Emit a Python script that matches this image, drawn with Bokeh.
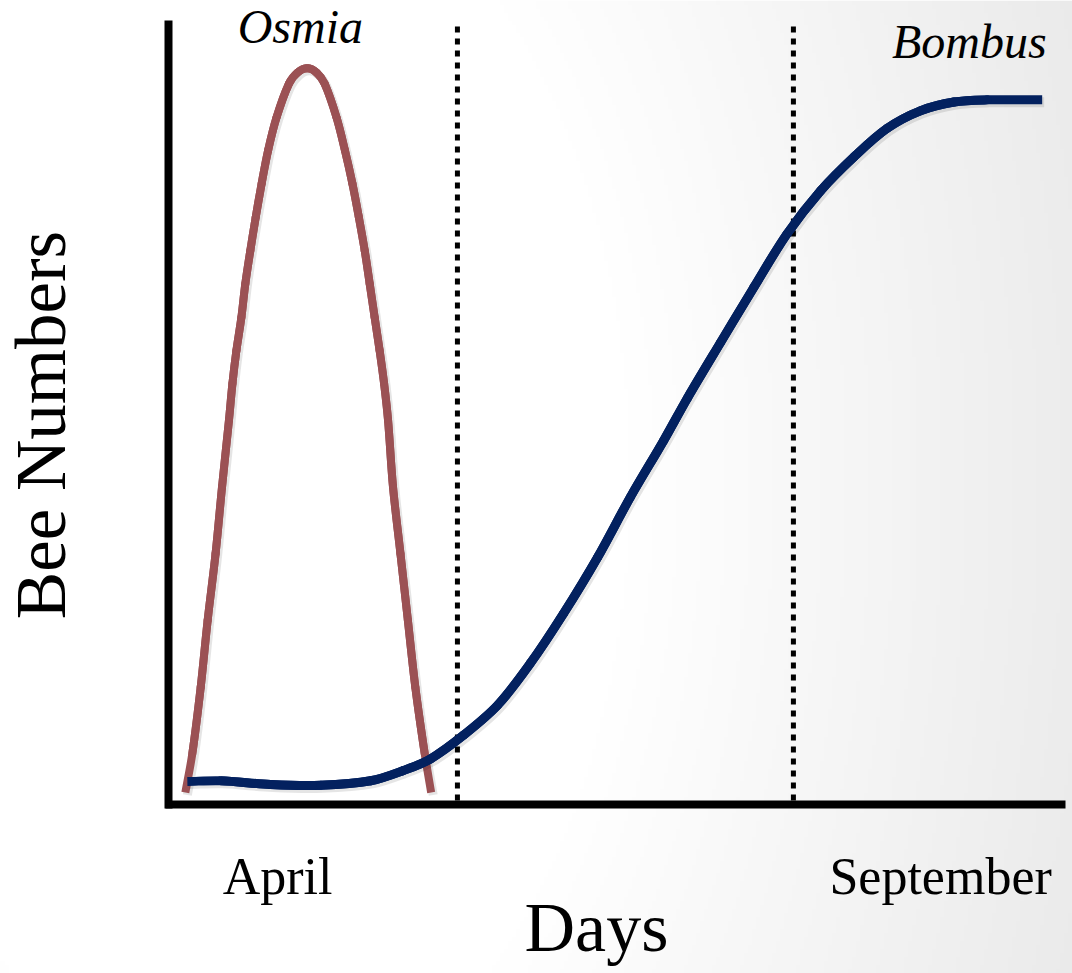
import numpy as np
from bokeh.plotting import figure
from bokeh.models import Range1d, LinearAxis, FixedTicker, ColumnDataSource
from bokeh.core.properties import value
from bokeh.embed import file_html
from bokeh.resources import INLINE

# ---------------- data ----------------
osmia_day = [3.0, 4.4, 6.1, 7.5, 9.1, 10.4, 11.8, 12.5, 13.3, 14.3, 15.1, 16.1, 17.2, 18.4,
             19.7, 21.4, 23.9, 25.6, 27.6, 29.5, 31.1, 33.5, 35.2, 36.7, 38.0, 39.2, 40.2,
             41.2, 42.2, 43.1, 43.9, 44.9, 46.4, 47.9, 49.4, 51.3, 52.6]
osmia_count = [1.5, 6.8, 15.9, 25.0, 34.1, 43.2, 52.3, 57.3, 61.8, 66.3, 70.9, 75.4, 80.0, 84.6,
               89.1, 93.6, 98.2, 99.7, 100.3, 99.7, 98.2, 93.6, 89.1, 84.6, 80.0, 75.4, 70.9,
               66.3, 61.8, 57.3, 52.3, 43.2, 34.1, 25.0, 15.9, 6.8, 1.5]
bombus_day = [3.4, 10.1, 20.2, 30.3, 40.4, 47.0, 52.5, 59.1, 66.0, 72.6, 79.3, 86.2, 92.8,
              99.5, 104.3, 111.0, 117.7, 124.4, 131.2, 137.9, 144.6, 151.3, 158.1, 164.8, 175.9]
bombus_count = [3.0, 3.1, 2.6, 2.5, 3.1, 4.5, 6.1, 9.3, 13.4, 19.1, 25.9, 33.6, 41.8,
                49.5, 55.3, 62.9, 70.4, 77.7, 83.6, 88.2, 92.1, 94.5, 95.7, 96.0, 96.0]
divider_days = [57.9, 125.7]
month_days = [21.6, 155.4]
month_labels = ["April", "September"]
species_names = ["Osmia", "Bombus"]
species_label_day = [26.2, 161.2]
species_label_count = [106.0, 104.0]

# ---------------- layout constants ----------------
KX = 892 / 180.0          # px per day
KY = 7.33                 # px per count unit
X0 = -170 / KX
X1 = (1072 - 170) / KX
Y0 = (803 - 973) / KY
Y1 = 803 / KY

FONT = "Liberation Serif"

p = figure(width=1072, height=973, output_backend="svg", toolbar_location=None,
           x_range=Range1d(X0, X1), y_range=Range1d(Y0, Y1),
           x_axis_location=None, y_axis_location=None, min_border=0,
           outline_line_color=None, background_fill_color="white",
           border_fill_color="white")
p.grid.visible = False

# background soft gradient (white on the left, light grey towards right)
H, W = 243, 268
ys = 973 - (np.arange(H) + 0.5) * 973 / H
xs = (np.arange(W) + 0.5) * 1072 / W
XX, YY = np.meshgrid(xs, ys)
r = np.sqrt((XX - 250) ** 2 + ((YY - 480) * 0.6) ** 2)
t = np.clip((r - 380) / 600, 0, 1)
g = (255 - 25 * t).astype(np.uint8)
img = np.empty((H, W), dtype=np.uint32)
view = img.view(dtype=np.uint8).reshape((H, W, 4))
view[:, :, 0] = g
view[:, :, 1] = g
view[:, :, 2] = g
view[:, :, 3] = 255
p.image_rgba(image=[img], x=X0, y=Y0, dw=X1 - X0, dh=Y1 - Y0)

# dotted dividers
p.segment(x0=divider_days, x1=divider_days, y0=[0.4] * 2, y1=[106.7] * 2,
          line_color="black", line_width=5, line_dash="6 6", line_cap="butt")


def smooth_curve(xs_, ys_, dx=0.0, dy=0.0):
    """Cubic Bezier pieces through every read point (chord-length cardinal tangents,
    computed in screen-proportional units). dx, dy shift in pixels (for shadows)."""
    x = np.asarray(xs_, float) * KX + dx
    y = np.asarray(ys_, float) * KY - dy
    n = len(x)
    d = np.hypot(np.diff(x), np.diff(y))
    tx = np.empty(n)
    ty = np.empty(n)
    tx[1:-1] = (x[2:] - x[:-2]) / (d[:-1] + d[1:])
    ty[1:-1] = (y[2:] - y[:-2]) / (d[:-1] + d[1:])
    tx[0], ty[0] = (x[1] - x[0]) / d[0], (y[1] - y[0]) / d[0]
    tx[-1], ty[-1] = (x[-1] - x[-2]) / d[-1], (y[-1] - y[-2]) / d[-1]
    return dict(
        x0=x[:-1] / KX, y0=y[:-1] / KY, x1=x[1:] / KX, y1=y[1:] / KY,
        cx0=(x[:-1] + tx[:-1] * d / 3) / KX, cy0=(y[:-1] + ty[:-1] * d / 3) / KY,
        cx1=(x[1:] - tx[1:] * d / 3) / KX, cy1=(y[1:] - ty[1:] * d / 3) / KY,
    )


def inner(seg):
    return {k: v[1:-1] for k, v in seg.items()}


BZ = dict(x0="x0", y0="y0", x1="x1", y1="y1", cx0="cx0", cy0="cy0", cx1="cx1", cy1="cy1")


def draw_curve(days, counts, color, width):
    # soft drop shadow
    p.bezier(source=ColumnDataSource(smooth_curve(days, counts, 2, 2.5)), **BZ,
             line_color="black", line_alpha=0.10, line_width=width + 1, line_cap="butt")
    seg = smooth_curve(days, counts)
    # flat ends, round joins between pieces (hides seams)
    p.bezier(source=ColumnDataSource(seg), **BZ,
             line_color=color, line_width=width, line_cap="butt")
    p.bezier(source=ColumnDataSource(inner(seg)), **BZ,
             line_color=color, line_width=width, line_cap="round")


draw_curve(osmia_day, osmia_count, "#9b5154", 8)
draw_curve(bombus_day, bombus_count, "#03215f", 9)

# species labels
p.text(x=species_label_day, y=species_label_count, text=species_names,
       text_font=value(FONT), text_font_style="italic", text_font_size="48px",
       text_align="center", text_baseline="alphabetic", text_color="black")

# axes (visible lines + month tick labels)
xaxis = LinearAxis(fixed_location=-0.14, bounds=(-1.0, 180.6),
                   ticker=FixedTicker(ticks=month_days),
                   major_label_overrides={d: s for d, s in zip(month_days, month_labels)})
yaxis = LinearAxis(fixed_location=-0.4, bounds=(-0.7, 106.8),
                   ticker=FixedTicker(ticks=[]))
# label carriers (no line) so that axis titles sit where the reference puts them
xlab = LinearAxis(fixed_location=-0.14, bounds=(-0.81, 172.7),
                  ticker=FixedTicker(ticks=[]), axis_label="Days")
ylab = LinearAxis(fixed_location=-0.4, bounds=(-3.55, 106.8),
                  ticker=FixedTicker(ticks=[]), axis_label="Bee Numbers")
for ax in (xaxis, yaxis, xlab, ylab):
    ax.axis_line_color = "black"
    ax.axis_line_width = 8
    ax.major_tick_in = 0
    ax.major_tick_out = 0
    ax.minor_tick_in = 0
    ax.minor_tick_out = 0
    ax.major_label_text_font = FONT
    ax.major_label_text_color = "black"
    ax.axis_label_text_font = FONT
    ax.axis_label_text_font_style = "normal"
    ax.axis_label_text_color = "black"
for ax in (xlab, ylab):
    ax.axis_line_color = None
    ax.major_label_text_font_size = "0px"

xaxis.major_label_text_font_size = "52px"
xaxis.major_label_standoff = 43
yaxis.major_label_text_font_size = "0px"
xlab.axis_label_text_font_size = "70px"
xlab.axis_label_standoff = 84
ylab.axis_label_text_font_size = "71px"
ylab.axis_label_standoff = 89

p.add_layout(xaxis, "below")
p.add_layout(yaxis, "left")
p.add_layout(xlab, "below")
p.add_layout(ylab, "left")

open("out.html", "w").write(file_html(p, INLINE))
